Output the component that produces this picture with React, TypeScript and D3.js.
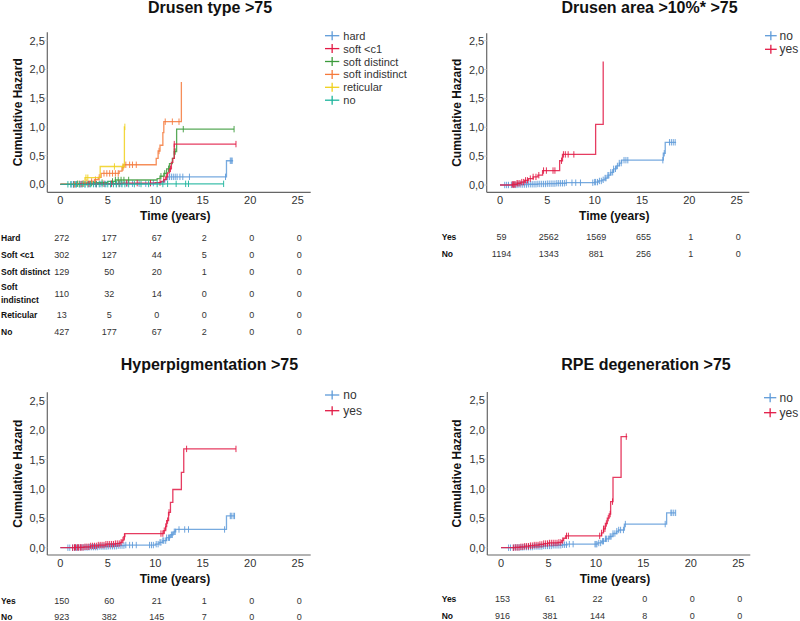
import React from "react";
import * as d3 from "d3";

// ---------- shared axis data ----------
const xTicks = [0, 5, 10, 15, 20, 25];
const yTicks = [0, 0.5, 1, 1.5, 2, 2.5];
const yTickLabels = ["0,0", "0,5", "1,0", "1,5", "2,0", "2,5"];

// ---------- Panel 1: Drusen type >75 ----------
const dtTitle = "Drusen type >75";
const dtLegend = ["hard", "soft <c1", "soft distinct", "soft indistinct", "reticular", "no"];
const dtHard = [[0, 0], [3, 0.005], [6, 0.01], [9.5, 0.02], [10.6, 0.04], [11.0, 0.08], [11.3, 0.13], [17.5, 0.41], [18.2, 0.41]];
const dtHardCens = [1.2, 1.6, 2.1, 2.6, 3.1, 3.7, 4.2, 4.8, 5.3, 5.9, 6.4, 7.0, 7.6, 8.3, 9.0, 9.8, 11.5, 11.7, 11.9, 12.1, 12.3, 12.6, 12.9, 13.6, 17.4, 17.9, 18.0, 18.1];
const dtSoftC1 = [[0, 0], [2.0, 0.005], [4.0, 0.01], [6.5, 0.02], [10.0, 0.03], [10.6, 0.05], [10.9, 0.08], [11.1, 0.13], [11.3, 0.2], [11.5, 0.27], [11.7, 0.38], [11.85, 0.45], [12.0, 0.7], [18.5, 0.7]];
const dtSoftC1Cens = [1.4, 2.2, 3.0, 3.8, 4.6, 5.4, 6.2, 7.0, 8.1, 9.5, 10.5, 10.9, 11.2, 11.6, 12.0, 18.5];
const dtDistinct = [[0, 0], [1.5, 0.01], [2.5, 0.02], [3.5, 0.03], [5.0, 0.05], [5.8, 0.075], [10.2, 0.1], [10.5, 0.14], [10.9, 0.19], [11.2, 0.27], [11.5, 0.36], [11.8, 0.45], [12.0, 0.57], [12.25, 0.96], [18.3, 0.96]];
const dtDistinctCens = [1.8, 2.4, 3.3, 4.4, 5.5, 5.8, 6.1, 6.4, 6.7, 7.2, 10.6, 11.0, 11.4, 12.0, 12.1, 12.95, 18.3];
const dtIndistinct = [[0, 0], [1.8, 0.01], [2.5, 0.03], [3.0, 0.05], [3.6, 0.08], [4.0, 0.12], [4.3, 0.19], [6.2, 0.23], [6.5, 0.29], [6.7, 0.34], [10.1, 0.45], [10.3, 0.58], [10.5, 0.68], [10.8, 0.9], [10.9, 1.09], [12.75, 1.78]];
const dtIndistinctCens = [1.5, 2.0, 2.4, 2.8, 3.3, 3.7, 4.1, 4.6, 4.9, 5.2, 5.5, 5.8, 6.1, 6.6, 6.9, 7.3, 7.6, 8.0, 10.4, 11.05, 11.8, 12.5];
const dtReticular = [[0, 0], [2.6, 0.115], [4.2, 0.31], [6.75, 1.0], [6.8, 1.0]];
const dtReticularCens = [2.7, 2.9, 5.7, 6.6, 6.8];
const dtNo = [[0, 0], [3, 0.003], [8, 0.005], [11, 0.008], [17.2, 0.008]];
const dtNoCens = [0.8, 1.1, 1.4, 1.7, 2.0, 2.3, 2.6, 2.9, 3.2, 3.5, 3.8, 4.1, 4.4, 4.7, 5.0, 5.3, 5.6, 5.9, 6.2, 6.5, 6.8, 7.2, 7.8, 8.5, 9.3, 10.2, 10.8, 11.3, 12.2, 13.2, 13.5, 17.2];
const dtTableLabels = ["Hard", "Soft <c1", "Soft distinct", "Soft|indistinct", "Reticular", "No"];
const dtTableValues = [
  [272, 177, 67, 2, 0, 0],
  [302, 127, 44, 5, 0, 0],
  [129, 50, 20, 1, 0, 0],
  [110, 32, 14, 0, 0, 0],
  [13, 5, 0, 0, 0, 0],
  [427, 177, 67, 2, 0, 0],
];

// ---------- Panel 2: Drusen area >10%* >75 ----------
const daTitle = "Drusen area >10%* >75";
const yesNoLegend = ["no", "yes"];
const daNo = [[0, 0], [1.0, 0.002], [2.0, 0.008], [3.0, 0.013], [4.0, 0.018], [5.0, 0.023], [6.0, 0.03], [7.0, 0.04], [10.0, 0.05], [10.4, 0.07], [10.8, 0.09], [11.1, 0.12], [11.4, 0.17], [11.7, 0.22], [12.0, 0.28], [12.3, 0.33], [12.6, 0.38], [12.85, 0.43], [17.25, 0.55], [17.45, 0.74], [18.6, 0.74]];
const daNoCens = [0.5, 0.7, 0.9, 1.2, 1.4, 1.6, 1.8, 2.0, 2.2, 2.4, 2.6, 2.8, 3.0, 3.2, 3.4, 3.6, 3.8, 4.0, 4.2, 4.4, 4.6, 4.8, 5.0, 5.2, 5.4, 5.6, 5.8, 6.0, 6.2, 6.4, 6.6, 6.8, 7.0, 7.6, 8.0, 8.5, 9.8, 10.0, 10.1, 10.3, 10.5, 10.7, 10.9, 11.1, 11.2, 11.4, 11.5, 11.7, 11.9, 12.0, 12.2, 12.4, 12.6, 12.8, 13.1, 13.3, 13.5, 17.2, 17.35, 17.9, 18.1, 18.3, 18.5];
const daYes = [[0, 0], [1.3, 0.01], [1.8, 0.03], [2.2, 0.05], [2.6, 0.08], [3.0, 0.11], [3.5, 0.14], [4.0, 0.17], [4.5, 0.25], [6.3, 0.42], [6.6, 0.53], [10.1, 1.05], [10.9, 2.14]];
const daYesCens = [1.3, 1.4, 1.5, 1.6, 1.8, 1.9, 2.1, 2.3, 2.5, 2.7, 2.9, 3.2, 3.5, 3.8, 4.1, 4.6, 4.9, 5.6, 5.8, 6.5, 6.7, 6.9, 7.2, 7.8];
const daTableLabels = ["Yes", "No"];
const daTableValues = [
  [59, 2562, 1569, 655, 1, 0],
  [1194, 1343, 881, 256, 1, 0],
];

// ---------- Panel 3: Hyperpigmentation >75 ----------
const hpTitle = "Hyperpigmentation >75";
const hpNo = [[0, 0], [2, 0.005], [3, 0.01], [4, 0.02], [5, 0.025], [6, 0.035], [6.8, 0.045], [10.0, 0.06], [10.4, 0.09], [10.8, 0.12], [11.2, 0.17], [11.6, 0.22], [11.9, 0.27], [12.15, 0.31], [17.5, 0.54], [18.4, 0.54]];
const hpNoCens = [0.8, 1.0, 1.3, 1.5, 1.7, 1.9, 2.1, 2.3, 2.5, 2.7, 2.9, 3.1, 3.3, 3.5, 3.7, 3.9, 4.1, 4.3, 4.5, 4.7, 4.9, 5.1, 5.3, 5.5, 5.7, 5.9, 6.1, 6.3, 6.5, 6.7, 6.9, 7.3, 7.6, 8.0, 9.4, 9.6, 9.8, 10.1, 10.3, 10.5, 10.6, 10.8, 10.9, 11.1, 11.2, 11.4, 11.5, 11.7, 11.8, 12.0, 12.1, 12.5, 13.1, 13.5, 17.3, 17.9, 18.0, 18.2, 18.35];
const hpYes = [[0, 0], [1.5, 0.005], [2.5, 0.015], [3.2, 0.03], [4.0, 0.045], [4.8, 0.06], [5.8, 0.07], [6.3, 0.09], [6.5, 0.13], [6.7, 0.19], [6.8, 0.24], [10.9, 0.29], [11.1, 0.36], [11.2, 0.46], [11.4, 0.6], [11.6, 0.77], [11.85, 0.99], [12.75, 1.28], [13.0, 1.68], [18.5, 1.68]];
const hpYesCens = [1.3, 1.5, 1.6, 1.8, 1.9, 2.1, 2.2, 2.4, 2.6, 2.8, 3.0, 3.2, 3.4, 3.6, 3.8, 4.0, 4.2, 4.4, 4.6, 4.8, 5.0, 5.2, 5.4, 5.6, 5.8, 6.0, 6.2, 6.4, 6.6, 6.75, 10.6, 10.8, 10.95, 11.1, 11.3, 11.45, 13.3, 18.5];
const hpTableLabels = ["Yes", "No"];
const hpTableValues = [
  [150, 60, 21, 1, 0, 0],
  [923, 382, 145, 7, 0, 0],
];

// ---------- Panel 4: RPE degeneration >75 ----------
const rpeTitle = "RPE degeneration >75";
const rpeNo = [[0, 0], [1.5, 0.005], [2.5, 0.01], [3.5, 0.02], [4.5, 0.03], [5.5, 0.04], [6.5, 0.05], [7.0, 0.06], [10.2, 0.08], [10.6, 0.11], [11.0, 0.15], [11.4, 0.19], [11.8, 0.24], [12.2, 0.28], [12.4, 0.3], [13.0, 0.4], [17.45, 0.59], [18.4, 0.59]];
const rpeNoCens = [0.8, 1.0, 1.3, 1.5, 1.7, 1.9, 2.1, 2.3, 2.5, 2.7, 2.9, 3.1, 3.3, 3.5, 3.7, 3.9, 4.1, 4.3, 4.5, 4.7, 4.9, 5.1, 5.3, 5.5, 5.7, 5.9, 6.1, 6.3, 6.5, 6.7, 6.9, 7.2, 7.6, 9.9, 10.0, 10.1, 10.3, 10.5, 10.7, 10.8, 11.0, 11.1, 11.3, 11.5, 11.6, 11.8, 12.0, 12.2, 12.4, 12.6, 12.9, 13.1, 17.3, 17.9, 18.0, 18.2, 18.4];
const rpeYes = [[0, 0], [1.5, 0.005], [2.0, 0.015], [2.5, 0.025], [3.0, 0.035], [3.5, 0.045], [4.0, 0.055], [4.5, 0.07], [5.0, 0.08], [6.0, 0.09], [6.4, 0.12], [6.6, 0.16], [6.8, 0.2], [10.6, 0.25], [10.8, 0.32], [11.0, 0.41], [11.2, 0.5], [11.4, 0.57], [11.55, 0.78], [11.8, 1.19], [12.65, 1.88], [13.3, 1.88]];
const rpeYesCens = [1.3, 1.5, 1.7, 1.9, 2.1, 2.3, 2.5, 2.7, 2.9, 3.1, 3.3, 3.5, 3.7, 3.9, 4.1, 4.3, 4.5, 4.7, 4.9, 5.1, 5.3, 5.5, 5.7, 5.9, 6.1, 6.3, 6.5, 6.9, 7.1, 10.4, 10.6, 10.8, 10.95, 11.1, 11.3, 11.5, 11.75, 13.2];
const rpeTableLabels = ["Yes", "No"];
const rpeTableValues = [
  [153, 61, 22, 0, 0, 0],
  [916, 381, 144, 8, 0, 0],
];

// ---------- colours ----------
const BLUE = "#5f9bd9";
const RED = "#e21a45";
const GREEN = "#3c9b3c";
const ORANGE = "#f57a3c";
const YELLOW = "#f0d01c";
const TEAL = "#1cb49c";

type Series = { steps: number[][]; cens: number[]; color: string };

type Layout = {
  x0: number; x25: number; left: number; right: number; top: number; bottom: number;
  y0: number; y25: number; titleX: number; titleY: number; ylabX: number;
  xlabX: number; xlabY: number; tickY: number;
  legX1: number; legX2: number; legTextX: number; legY0: number; legDy: number; legFont: number;
  tableX: number; tableRows: number[];
};

const FONT = "'Liberation Sans', Arial, Helvetica, sans-serif";

function valueAt(steps: number[][], t: number) {
  let v = steps[0][1];
  for (const s of steps) if (s[0] <= t) v = s[1];
  return v;
}

function Panel(props: {
  L: Layout; title: string; series: Series[]; legend: string[]; legendColors: string[];
  tableLabels: string[]; tableValues: number[][];
}) {
  const { L, title, series, legend, legendColors, tableLabels, tableValues } = props;
  const xs = d3.scaleLinear().domain([0, 25]).range([L.x0, L.x25]);
  const ys = d3.scaleLinear().domain([0, 2.5]).range([L.y0, L.y25]);
  const line = d3.line<number[]>().x((d) => xs(d[0])).y((d) => ys(d[1])).curve(d3.curveStepAfter);
  const midY = (L.top + L.bottom) / 2;
  return (
    <g>
      <text x={L.titleX} y={L.titleY} textAnchor="middle" fontFamily={FONT} fontWeight="bold" fontSize={16} fill="#111">{title}</text>
      {/* axes */}
      <line x1={L.left} x2={L.left} y1={L.top} y2={L.bottom} stroke="#666" strokeWidth={1.2} />
      <line x1={L.left} x2={L.right} y1={L.bottom} y2={L.bottom} stroke="#666" strokeWidth={1.2} />
      {yTicks.map((t, i) => (
        <g key={"y" + i}>
          <line x1={L.left - 3} x2={L.left} y1={ys(t)} y2={ys(t)} stroke="#ccc" strokeWidth={0.8} />
          <text x={L.left - 2.5} y={ys(t) + 4} textAnchor="end" fontFamily={FONT} fontSize={11} fill="#333">{yTickLabels[i]}</text>
        </g>
      ))}
      {xTicks.map((t, i) => (
        <text key={"x" + i} x={xs(t)} y={L.tickY} textAnchor="middle" fontFamily={FONT} fontSize={11} fill="#333">{t}</text>
      ))}
      <text transform={`translate(${L.ylabX},${midY}) rotate(-90)`} textAnchor="middle" dominantBaseline="central" fontFamily={FONT} fontWeight="bold" fontSize={12} fill="#111">Cumulative Hazard</text>
      <text x={L.xlabX} y={L.xlabY} textAnchor="middle" fontFamily={FONT} fontWeight="bold" fontSize={12} fill="#111">Time (years)</text>
      {/* curves */}
      {series.map((s, i) => (
        <g key={"s" + i}>
          <path d={line(s.steps) || ""} fill="none" stroke={s.color} strokeWidth={1.3} strokeOpacity={0.85} />
          {s.cens.map((c, j) => (
            <line key={j} x1={xs(c)} x2={xs(c)} y1={ys(valueAt(s.steps, c)) - 3.2} y2={ys(valueAt(s.steps, c)) + 3.2} stroke={s.color} strokeWidth={1} strokeOpacity={0.9} />
          ))}
        </g>
      ))}
      {/* legend */}
      {legend.map((lab, i) => {
        const y = L.legY0 + i * L.legDy;
        const cx = (L.legX1 + L.legX2) / 2;
        return (
          <g key={"l" + i}>
            <line x1={L.legX1} x2={L.legX2} y1={y} y2={y} stroke={legendColors[i]} strokeWidth={1.3} />
            <line x1={cx} x2={cx} y1={y - 4.5} y2={y + 4.5} stroke={legendColors[i]} strokeWidth={1.3} />
            <text x={L.legTextX} y={y + 4} fontFamily={FONT} fontSize={L.legFont} fill="#333">{lab}</text>
          </g>
        );
      })}
      {/* risk table */}
      {tableLabels.map((lab, r) => {
        const y = L.tableRows[r];
        const parts = lab.split("|");
        return (
          <g key={"t" + r}>
            {parts.length === 1 ? (
              <text x={L.tableX} y={y + 3} fontFamily={FONT} fontWeight="bold" fontSize={8.5} fill="#111">{lab}</text>
            ) : (
              parts.map((p, k) => (
                <text key={k} x={L.tableX} y={y + 3 + (k === 0 ? -6.4 : 6.4)} fontFamily={FONT} fontWeight="bold" fontSize={8.5} fill="#111">{p}</text>
              ))
            )}
            {tableValues[r].map((v, c) => (
              <text key={c} x={xs(xTicks[c]) + 1.5} y={y + 3} textAnchor="middle" fontFamily={FONT} fontSize={9} fill="#333">{v}</text>
            ))}
          </g>
        );
      })}
    </g>
  );
}

const LTL: Layout = {
  x0: 60.3, x25: 297.7, left: 47.3, right: 310.7, top: 32.3, bottom: 192.3, y0: 184.3, y25: 40.7,
  titleX: 210, titleY: 13, ylabX: 18, xlabX: 175.3, xlabY: 220, tickY: 204,
  legX1: 325, legX2: 339.3, legTextX: 343.3, legY0: 35.7, legDy: 12.9, legFont: 11,
  tableX: 1, tableRows: [237.7, 255, 272.3, 293.7, 315, 332],
};
const LTR: Layout = {
  x0: 500, x25: 736.7, left: 486.7, right: 749.3, top: 33.3, bottom: 192.3, y0: 185, y25: 40.7,
  titleX: 649.5, titleY: 13, ylabX: 456.7, xlabX: 614.3, xlabY: 220, tickY: 204,
  legX1: 765, legX2: 776.7, legTextX: 779.5, legY0: 35.7, legDy: 13.6, legFont: 12,
  tableX: 441.7, tableRows: [237, 254.3],
};
const LBL: Layout = {
  x0: 60.3, x25: 297.7, left: 47.3, right: 310.7, top: 392.3, bottom: 555, y0: 547.7, y25: 400.7,
  titleX: 209.4, titleY: 369.5, ylabX: 18, xlabX: 175, xlabY: 583, tickY: 566.7,
  legX1: 325, legX2: 339.3, legTextX: 343.3, legY0: 395, legDy: 15.7, legFont: 12,
  tableX: 1, tableRows: [600.7, 617.3],
};
const LBR: Layout = {
  x0: 501, x25: 738.3, left: 487.3, right: 750.3, top: 392, bottom: 555, y0: 547.7, y25: 400,
  titleX: 646, titleY: 369.5, ylabX: 456.7, xlabX: 615, xlabY: 583, tickY: 566.7,
  legX1: 764, legX2: 776.3, legTextX: 779.5, legY0: 397.7, legDy: 15, legFont: 12,
  tableX: 441.7, tableRows: [599, 616],
};

export default function App() {
  return (
    <svg width={800} height={621} style={{ position: "absolute", left: 0, top: 0, background: "#fff" }}>
      <rect x={0} y={0} width={800} height={621} fill="#fff" />
      <Panel
        L={LTL}
        title={dtTitle}
        series={[
          { steps: dtHard, cens: dtHardCens, color: BLUE },
          { steps: dtDistinct, cens: dtDistinctCens, color: GREEN },
          { steps: dtIndistinct, cens: dtIndistinctCens, color: ORANGE },
          { steps: dtReticular, cens: dtReticularCens, color: YELLOW },
          { steps: dtSoftC1, cens: dtSoftC1Cens, color: RED },
          { steps: dtNo, cens: dtNoCens, color: TEAL },
        ]}
        legend={dtLegend}
        legendColors={[BLUE, RED, GREEN, ORANGE, YELLOW, TEAL]}
        tableLabels={dtTableLabels}
        tableValues={dtTableValues}
      />
      <Panel
        L={LTR}
        title={daTitle}
        series={[
          { steps: daNo, cens: daNoCens, color: BLUE },
          { steps: daYes, cens: daYesCens, color: RED },
        ]}
        legend={yesNoLegend}
        legendColors={[BLUE, RED]}
        tableLabels={daTableLabels}
        tableValues={daTableValues}
      />
      <Panel
        L={LBL}
        title={hpTitle}
        series={[
          { steps: hpNo, cens: hpNoCens, color: BLUE },
          { steps: hpYes, cens: hpYesCens, color: RED },
        ]}
        legend={yesNoLegend}
        legendColors={[BLUE, RED]}
        tableLabels={hpTableLabels}
        tableValues={hpTableValues}
      />
      <Panel
        L={LBR}
        title={rpeTitle}
        series={[
          { steps: rpeNo, cens: rpeNoCens, color: BLUE },
          { steps: rpeYes, cens: rpeYesCens, color: RED },
        ]}
        legend={yesNoLegend}
        legendColors={[BLUE, RED]}
        tableLabels={rpeTableLabels}
        tableValues={rpeTableValues}
      />
    </svg>
  );
}
